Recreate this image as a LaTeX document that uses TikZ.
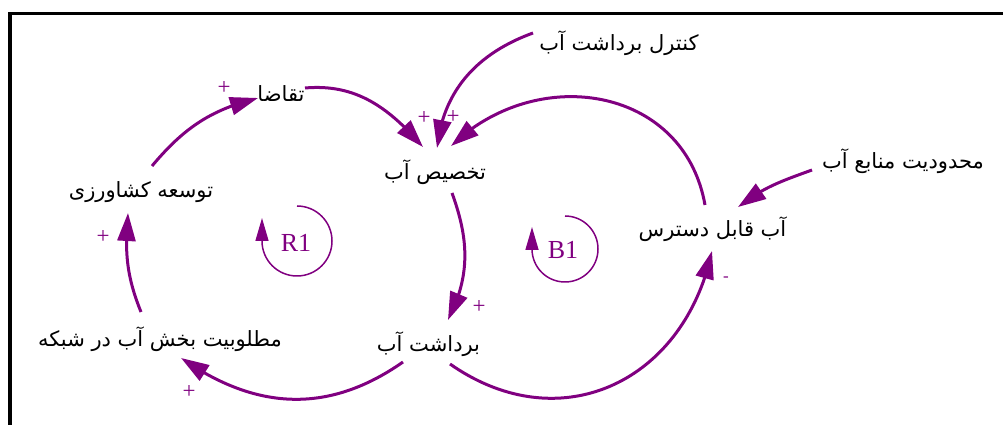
\documentclass[tikz,border=0pt]{standalone}
\usepackage{fontspec}
\newfontfamily\fa[Script=Arabic]{DejaVu Sans}
\newfontfamily\serifsym{Liberation Serif}
\TeXXeTstate=1
\usetikzlibrary{arrows.meta,bending,calc}
\definecolor{loopcol}{HTML}{800080}
\tikzset{
  var/.style={font=\fa\fontsize{21}{24}\selectfont, inner sep=0pt, text=black},
  link/.style={draw=loopcol, line width=3pt, -{Triangle[length=28pt,width=18pt]}},
  pol/.style={text=loopcol, font=\serifsym\fontsize{23}{24}\selectfont, inner sep=0pt},
  looparc/.style={draw=loopcol, line width=1.5pt, -{Triangle[length=23pt,width=13pt]}},
  looplabel/.style={text=loopcol, font=\serifsym\fontsize{26}{28}\selectfont, inner sep=0pt}
}
\begin{document}
\begin{tikzpicture}[x=1pt,y=1pt]
\useasboundingbox (0,0) rectangle (1003,425);
\clip (0,0) rectangle (1003,425);

% frame
\draw[line width=3.4pt] (10,-5) -- (10,411.5) -- (1010,411.5);

% variables
\node[var] (taqaza)   at (281,331.5) {\beginR تقاضا\endR};
\node[var] (tose)     at (141,233)   {\beginR توسعه کشاورزی\endR};
\node[var] (matloob)  at (160,86)    {\beginR مطلوبیت بخش آب در شبکه\endR};
\node[var] (takhsis)  at (435,252.5) {\beginR تخصیص آب\endR};
\node[var] (bardasht) at (428.5,81)  {\beginR برداشت آب\endR};
\node[var] (ghabel)   at (712.5,195.5) {\beginR آب قابل دسترس\endR};
\node[var] (control)  at (619,382)   {\beginR کنترل برداشت آب\endR};
\node[var] (mahdood)  at (903,264)   {\beginR محدودیت منابع آب\endR};

% causal links
\draw[link] ($(tose)+(11,26)$) to[out=50,in=194] ($(taqaza)+(-23,-4.5)$);
\draw[link] ($(taqaza)+(24,5.5)$) to[out=5,in=131] ($(takhsis)+(-12,25.5)$);
\draw[link] ($(control)+(-86,10)$) to[out=200,in=84] ($(takhsis)+(2,24.5)$);
\draw[link] ($(ghabel)+(-7.5,24.5)$) to[out=100,in=44,looseness=1.18] ($(takhsis)+(16,26.5)$);
\draw[link] ($(takhsis)+(17,-20.5)$) to[out=-70,in=63] ($(bardasht)+(19.5,24)$);
\draw[link] ($(bardasht)+(-25.5,-18)$) to[out=215,in=-35,looseness=1.05] ($(matloob)+(21,-19)$);
\draw[link] ($(bardasht)+(21.5,-20)$) to[out=-35,in=258,looseness=1.2] ($(ghabel)+(-0.5,-21.5)$);
\draw[link] ($(matloob)+(-19,27)$) to[out=112,in=265] ($(tose)+(-13,-21)$);
\draw[link] ($(mahdood)+(-91,-9)$) to[out=200,in=38] ($(ghabel)+(25.5,22.5)$);

% polarities
\node[pol] (p1) at (224,337) {+};
\node[pol] (p2) at (424,307) {+};
\node[pol] (p3) at (453,308) {+};
\node[pol] (p4) at (479,118) {+};
\node[pol] (p5) at (189,33)  {+};
\node[pol] (p6) at (103,188) {+};
\node[pol, font=\serifsym\fontsize{17}{18}\selectfont] (p7) at (726,146) {-};

% loop markers
\coordinate (r1c) at (297,184);
\draw[looparc] ($(r1c)+(0,35)$) arc[start angle=90,end angle=-180,radius=35] -- ++(0,23);
\node[looplabel] (r1) at (296,182) {R1};
\coordinate (b1c) at (565,176);
\draw[looparc] ($(b1c)+(0,33)$) arc[start angle=90,end angle=-180,radius=33] -- ++(0,22);
\node[looplabel] (b1) at (563,175) {B1};
\end{tikzpicture}
\end{document}
